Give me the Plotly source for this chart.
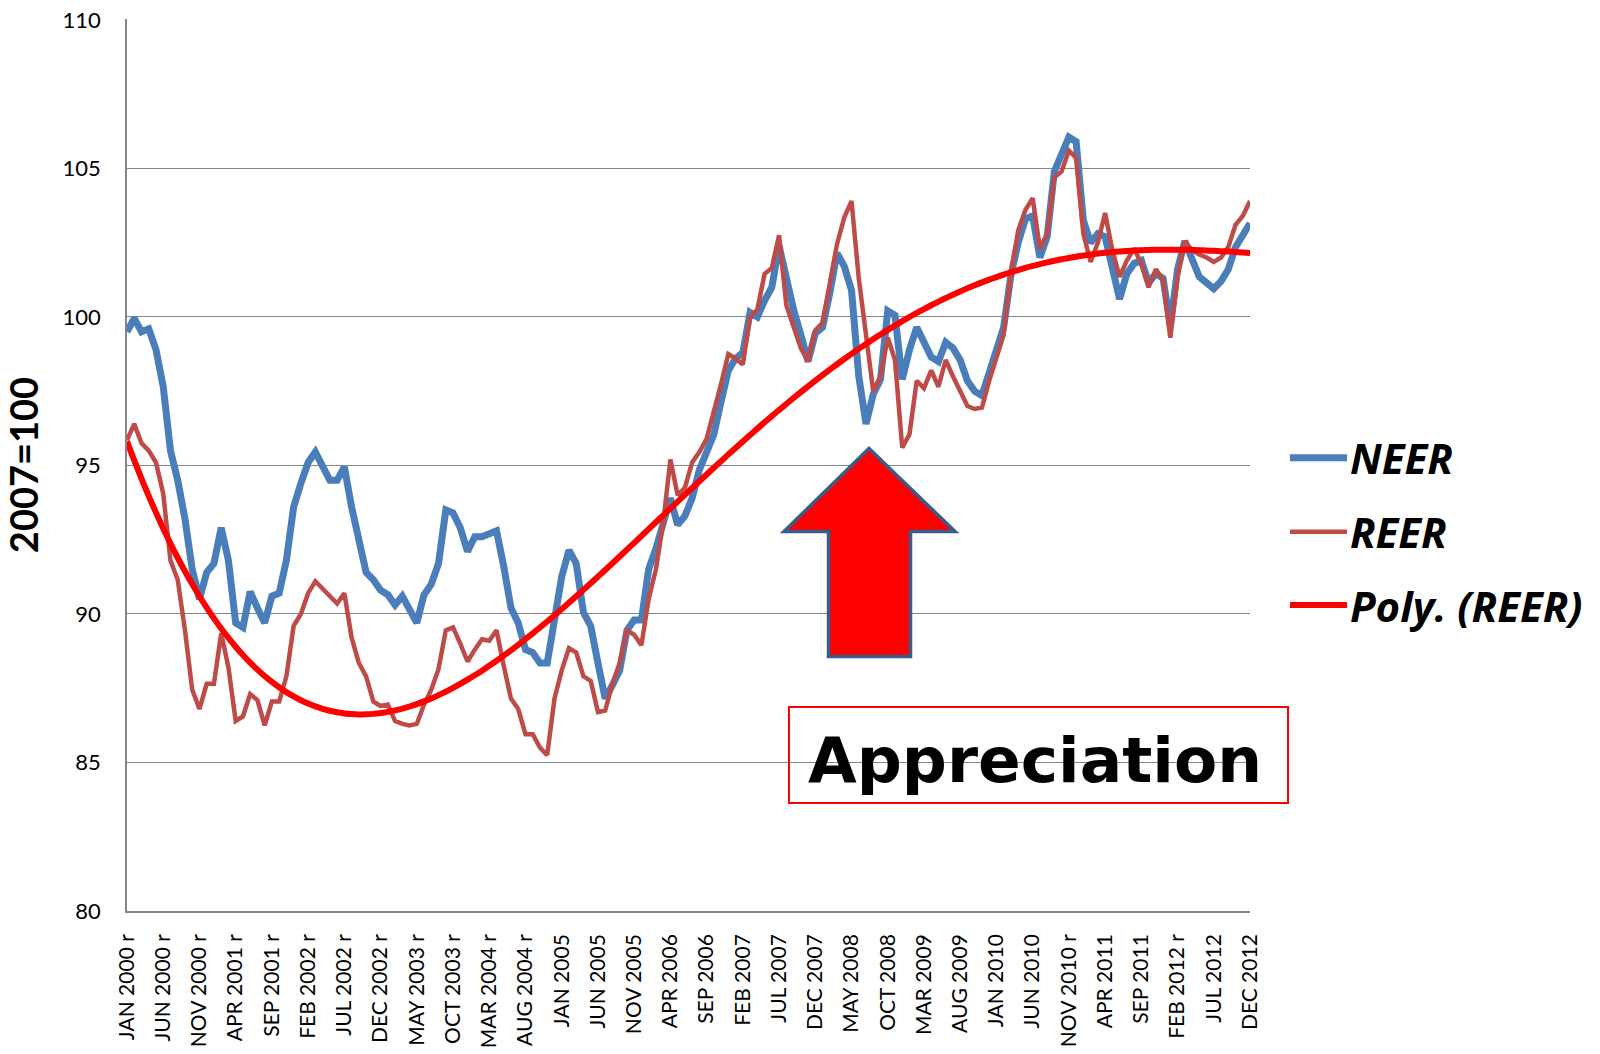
import numpy as np
import plotly.graph_objects as go

MONTHS = ["JAN", "FEB", "MAR", "APR", "MAY", "JUN", "JUL", "AUG", "SEP", "OCT", "NOV", "DEC"]
YEARS = list(range(2000, 2013))
REVISED = ([f"{m} {y}" for y in range(2000, 2004) for m in MONTHS]
           + [f"{m} 2004" for m in MONTHS[:8]] + ["NOV 2010", "FEB 2012"])
categories = [f"{m} {y}" + (" r" if f"{m} {y}" in REVISED else "") for y in YEARS for m in MONTHS]

tick_labels = ["JAN 2000 r", "JUN 2000 r", "NOV 2000 r", "APR 2001 r", "SEP 2001 r", "FEB 2002 r",
               "JUL 2002 r", "DEC 2002 r", "MAY 2003 r", "OCT 2003 r", "MAR 2004 r", "AUG 2004 r",
               "JAN 2005", "JUN 2005", "NOV 2005", "APR 2006", "SEP 2006", "FEB 2007", "JUL 2007",
               "DEC 2007", "MAY 2008", "OCT 2008", "MAR 2009", "AUG 2009", "JAN 2010", "JUN 2010",
               "NOV 2010 r", "APR 2011", "SEP 2011", "FEB 2012 r", "JUL 2012", "DEC 2012"]

neer = [99.5, 99.95, 99.5, 99.6, 98.9, 97.65, 95.5, 94.5, 93.2, 91.5,
        90.5, 91.4, 91.7, 92.9, 91.8, 89.7, 89.55, 90.75, 90.2, 89.7,
        90.6, 90.7, 91.8, 93.6, 94.4, 95.1, 95.45, 94.95, 94.5, 94.5,
        94.95, 93.6, 92.6, 91.4, 91.15, 90.8, 90.65, 90.3, 90.6, 90.2,
        89.7, 90.65, 91.0, 91.7, 93.5, 93.4, 92.9, 92.1, 92.6, 92.6,
        92.7, 92.8, 91.6, 90.2, 89.7, 88.8, 88.7, 88.35, 88.35, 89.7,
        91.25, 92.15, 91.7, 90.05, 89.6, 88.35, 87.15, 87.6, 88.1, 89.45,
        89.8, 89.8, 91.5, 92.2, 93.05, 93.9, 93.0, 93.3, 93.9, 94.85,
        95.45, 96.05, 97.15, 98.2, 98.6, 98.8, 100.15, 100.0, 100.55, 101.0,
        102.4, 101.3, 100.25, 99.4, 98.5, 99.45, 99.65, 100.8, 102.15, 101.7,
        100.9, 98.0, 96.4, 97.4, 97.9, 100.2, 100.05, 97.9, 98.9, 99.65,
        99.2, 98.65, 98.5, 99.15, 98.95, 98.55, 97.85, 97.5, 97.35, 98.1,
        99.0, 99.65, 101.4, 102.5, 103.3, 103.4, 102.0, 102.7, 104.9, 105.45,
        106.05, 105.9, 103.25, 102.5, 102.8, 102.7, 101.7, 100.6, 101.45, 101.8,
        101.9, 101.15, 101.45, 101.3, 99.7, 101.6, 102.55, 102.0, 101.35, 101.15,
        100.95, 101.2, 101.6, 102.35, 102.8, 103.15]

reer = [95.85, 96.4, 95.75, 95.5, 95.1, 94.05, 91.8, 91.15, 89.45, 87.45,
        86.8, 87.65, 87.65, 89.35, 88.2, 86.4, 86.55, 87.3, 87.1, 86.25,
        87.05, 87.05, 87.9, 89.6, 90.0, 90.7, 91.1, 90.85, 90.6, 90.35,
        90.7, 89.2, 88.35, 87.9, 87.05, 86.9, 86.95, 86.4, 86.3, 86.25,
        86.3, 86.95, 87.45, 88.15, 89.45, 89.55, 89.0, 88.4, 88.8, 89.15,
        89.1, 89.45, 88.25, 87.15, 86.8, 85.95, 85.95, 85.5, 85.25, 87.15,
        88.1, 88.85, 88.7, 87.9, 87.75, 86.7, 86.75, 87.65, 88.35, 89.45,
        89.3, 88.95, 90.5, 91.5, 93.05, 95.2, 94.0, 94.25, 95.1, 95.45,
        95.9, 96.8, 97.75, 98.75, 98.6, 98.4, 100.0, 100.25, 101.45, 101.65,
        102.75, 100.4, 99.65, 98.95, 98.5, 99.55, 99.8, 101.1, 102.45, 103.35,
        103.9, 101.3, 99.4, 97.5, 98.0, 99.3, 98.55, 95.6, 96.05, 97.85,
        97.6, 98.2, 97.65, 98.55, 98.0, 97.5, 97.0, 96.9, 96.95, 97.85,
        98.65, 99.4, 101.5, 102.9, 103.6, 104.0, 102.3, 102.8, 104.7, 104.9,
        105.6, 105.35, 102.8, 101.85, 102.5, 103.5, 102.25, 101.35, 101.9, 102.3,
        101.8, 101.0, 101.6, 101.25, 99.3, 101.35, 102.55, 102.25, 102.1, 102.0,
        101.85, 102.0, 102.35, 103.1, 103.4, 103.9]

POLY_ORDER = 4  # Excel polynomial trendline of REER

W, H = 1600, 1054
L, R, T, B = 127, 1250, 19, 911


def px(x):
    return (x - L) / (R - L)


def py(y):
    return (B - y) / (B - T)


t = np.arange(1, len(reer) + 1)
trend = np.polyval(np.polyfit(t, reer, POLY_ORDER), t)

fig = go.Figure()
fig.add_trace(go.Scatter(x=categories, y=neer, mode="lines", name="NEER",
                         line=dict(color="#4A7EBB", width=7), showlegend=False))
fig.add_trace(go.Scatter(x=categories, y=reer, mode="lines", name="REER",
                         line=dict(color="#BE4B48", width=4.5), showlegend=False))
fig.add_trace(go.Scatter(x=categories, y=trend, mode="lines", name="Poly. (REER)",
                         line=dict(color="#FF0000", width=6, shape="spline"), showlegend=False))

shapes = []
annotations = []
# legend (drawn by hand to match the long line samples)
leg = [("NEER", "#4A7EBB", 7, 457.7), ("REER", "#BE4B48", 4.5, 531.7), ("Poly. (REER)", "#FF0000", 6, 605)]
for txt, col, wd, yy in leg:
    shapes.append(dict(type="line", xref="paper", yref="paper", x0=px(1290), x1=px(1347),
                       y0=py(yy), y1=py(yy), line=dict(color=col, width=wd)))
    annotations.append(dict(xref="paper", yref="paper", x=px(1348), y=py(yy), xanchor="left",
                            yanchor="middle", showarrow=False, text=f"<b><i>{txt}</i></b>",
                            font=dict(family="Open Sans", size=42, color="black")))

# arrow
pts = [(869, 448.5), (955, 531.5), (910.5, 531.5), (910.5, 656.5), (828.5, 656.5),
       (828.5, 531.5), (784, 531.5)]
path = "M " + " L ".join(f"{px(a):.5f},{py(b):.5f}" for a, b in pts) + " Z"
shapes.append(dict(type="path", xref="paper", yref="paper", path=path,
                   fillcolor="#FF0000", line=dict(color="#385D8A", width=3.5)))
# box
shapes.append(dict(type="rect", xref="paper", yref="paper", x0=px(789), x1=px(1288),
                   y0=py(803), y1=py(707), line=dict(color="#FF0000", width=2)))
annotations.append(dict(xref="paper", yref="paper", x=px(1035), y=py(760), xanchor="center",
                        yanchor="middle", showarrow=False, text="<b>Appreciation</b>",
                        font=dict(family="DejaVu Sans", size=63, color="black")))

fig.update_layout(
    width=W, height=H,
    margin=dict(l=L, r=W - R, t=T, b=H - B),
    paper_bgcolor="white", plot_bgcolor="white",
    shapes=shapes, annotations=annotations,
    font=dict(family="Lato", color="black"),
)
fig.update_xaxes(type="category", range=[0, len(categories) - 1], tickvals=categories[::5],
                 ticktext=tick_labels, tickangle=-90, tickfont=dict(size=21, family="Lato"),
                 showgrid=False, showline=True, linecolor="#868686", linewidth=1.5,
                 ticks="", ticklabelstandoff=13, automargin=False)
fig.update_yaxes(range=[80, 110.03], tickvals=[80, 85, 90, 95, 100, 105, 110],
                 tickfont=dict(size=22, family="Lato"),
                 showgrid=True, gridcolor="#868686", gridwidth=1.3, zeroline=False,
                 showline=True, linecolor="#868686", linewidth=1.5, ticks="",
                 ticklabelstandoff=20, automargin=False,
                 title=dict(text="<b>2007=100</b>", font=dict(size=38, family="Lato"), standoff=14))

fig.write_html("out.html", config={"displayModeBar": False},
               post_script="document.body.style.margin='0';")
